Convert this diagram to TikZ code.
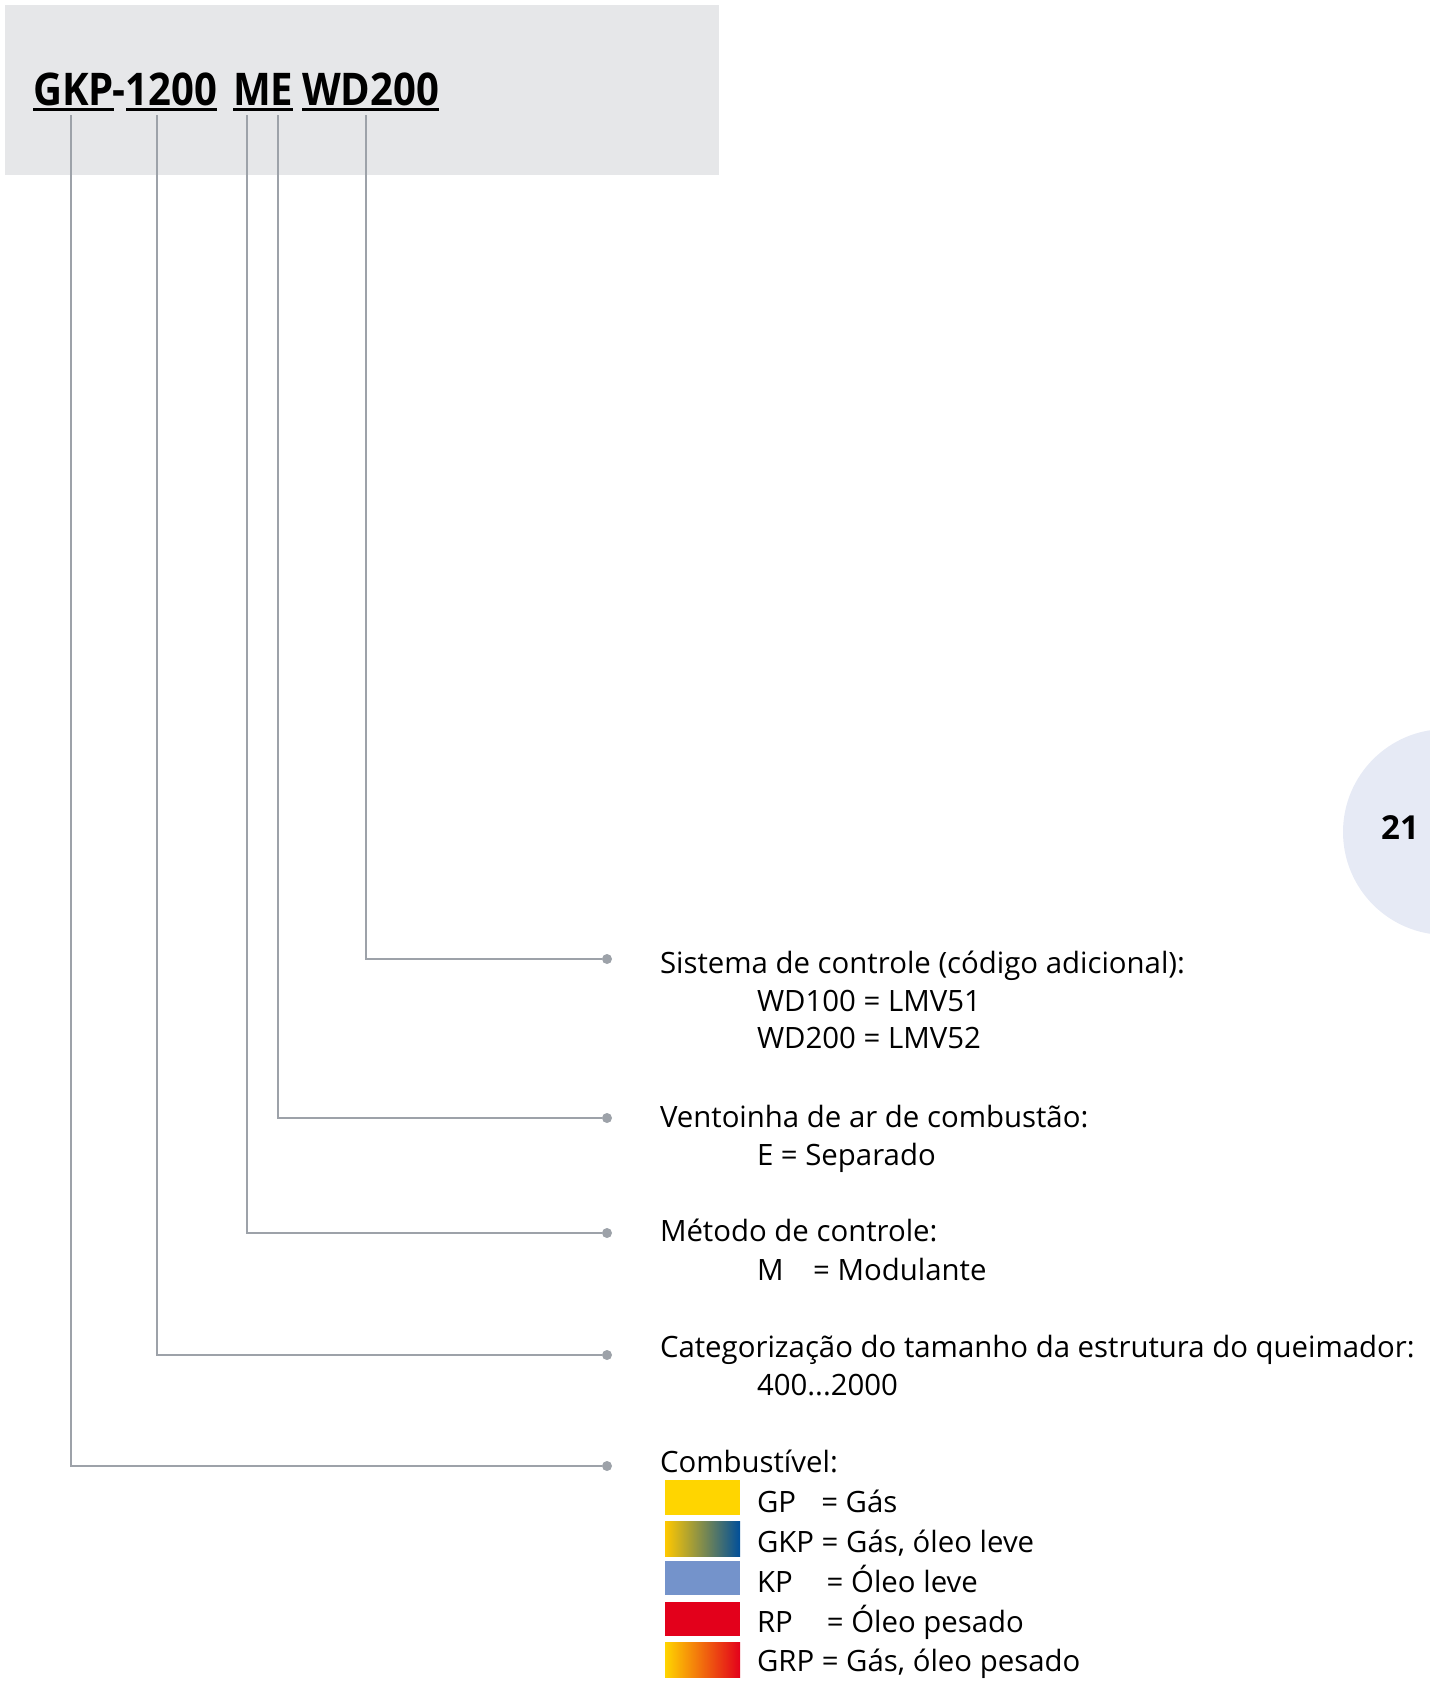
\documentclass[tikz,border=0pt]{standalone}
\usepackage{fontspec}
\setmainfont{Open Sans}
\usepackage{graphicx}
\usepackage{tikz}
\usepackage{xcolor}
\definecolor{boxgrey}{HTML}{E6E7E9}
\definecolor{leadgrey}{HTML}{9DA2A9}
\definecolor{tabblue}{HTML}{E6EAF5}
\definecolor{gasyellow}{HTML}{FFD500}
\definecolor{oilblue}{HTML}{7493CB}
\definecolor{deepblue}{HTML}{004F9A}
\definecolor{heavyred}{HTML}{E3001B}
\definecolor{midorange}{HTML}{EE7A1A}

\begin{document}
\begin{tikzpicture}[x=0.01cm,y=-0.01cm]
			\useasboundingbox (0,0) rectangle (1430,1681);
			\fill[boxgrey] (5,5) rectangle (719,175);
			\fill[tabblue] (1446,832) circle (103);
			\tikzstyle{every node}=[inner sep=0pt,outer sep=0pt]
			\tikzstyle{ttl}=[anchor=base west,font=\fontsize{12.8}{14}\selectfont\bfseries]
			\tikzstyle{lbl}=[anchor=base west,font=\fontsize{8.35}{10}\selectfont]
			\tikzstyle{leader}=[draw=leadgrey,line width=0.8pt]
			\tikzstyle{dot}=[circle,fill=leadgrey,minimum size=0.1cm]
			\tikzstyle{uline}=[line width=0.9pt]
			% type code
			\node[ttl] (gkp) at (33,105) {\scalebox{0.89}[1]{GKP}};
			\node[ttl] (dash) at (113,105) {\scalebox{0.89}[1]{-}};
			\node[ttl] (size) at (126,105) {\scalebox{0.89}[1]{1200}};
			\node[ttl] (me) at (233,105) {\scalebox{0.89}[1]{ME}};
			\node[ttl] (wd) at (302,105) {\scalebox{0.89}[1]{WD200}};
			\draw[uline] ([yshift=-1.3pt]gkp.base west) -- ([yshift=-1.3pt]gkp.base east);
			\draw[uline] ([yshift=-1.3pt]size.base west) -- ([yshift=-1.3pt]size.base east);
			\draw[uline] ([yshift=-1.3pt]me.base west) -- ([yshift=-1.3pt]me.base east);
			\draw[uline] ([yshift=-1.3pt]wd.base west) -- ([yshift=-1.3pt]wd.base east);
			\coordinate (tCtrl) at (366,115);
			\coordinate (tFan) at (278,115);
			\coordinate (tMode) at (247,115);
			\coordinate (tSize) at (157,115);
			\coordinate (tFuel) at (71,115);
			% dots
			\node[dot] (dCtrl) at (607,959) {};
			\node[dot] (dFan) at (607,1118) {};
			\node[dot] (dMode) at (607,1233) {};
			\node[dot] (dSize) at (607,1355) {};
			\node[dot] (dFuel) at (607,1466) {};
			\draw[leader] (tCtrl) |- (dCtrl);
			\draw[leader] (tFan) |- (dFan);
			\draw[leader] (tMode) |- (dMode);
			\draw[leader] (tSize) |- (dSize);
			\draw[leader] (tFuel) |- (dFuel);
			% texts
			\node[lbl] (ctrl) at (660,973) {Sistema de controle (código adicional):};
			\node[lbl] (ctrlA) at (757,1011) {WD100 = LMV51};
			\node[lbl] (ctrlB) at (757,1048) {WD200 = LMV52};
			\node[lbl] (fan) at (660,1127) {Ventoinha de ar de combustão:};
			\node[lbl] (fanA) at (757,1165) {E = Separado};
			\node[lbl] (mode) at (660,1241) {Método de controle:};
			\node[lbl] (modeA) at (757,1280) {M\hspace{0.75em} = Modulante};
			\node[lbl] (cat) at (660,1357) {Categorização do tamanho da estrutura do queimador:};
			\node[lbl] (catA) at (757,1395) {400...2000};
			\node[lbl] (fuel) at (660,1472) {Combustível:};
			\node[lbl] (fuelA) at (757,1512) {GP\hspace{0.6em} = Gás};
			\node[lbl] (fuelB) at (757,1552) {GKP = Gás, óleo leve};
			\node[lbl] (fuelC) at (757,1592) {KP\hspace{0.9em} = Óleo leve};
			\node[lbl] (fuelD) at (757,1632) {RP\hspace{0.9em} = Óleo pesado};
			\node[lbl] (fuelE) at (757,1671) {GRP = Gás, óleo pesado};
			% swatches
			\fill[gasyellow] (665,1480) rectangle (740,1515);
			\shade[left color=gasyellow!85!orange,right color=deepblue] (665,1521) rectangle (740,1556);
			\fill[oilblue] (665,1561) rectangle (740,1595);
			\fill[heavyred] (665,1602) rectangle (740,1636);
			\shade[left color=gasyellow,middle color=midorange,right color=heavyred] (665,1642) rectangle (740,1677);
			\node[font=\fontsize{9.4}{11}\selectfont\bfseries] (page) at (1400,828) {21};
		\end{tikzpicture}
\end{document}
